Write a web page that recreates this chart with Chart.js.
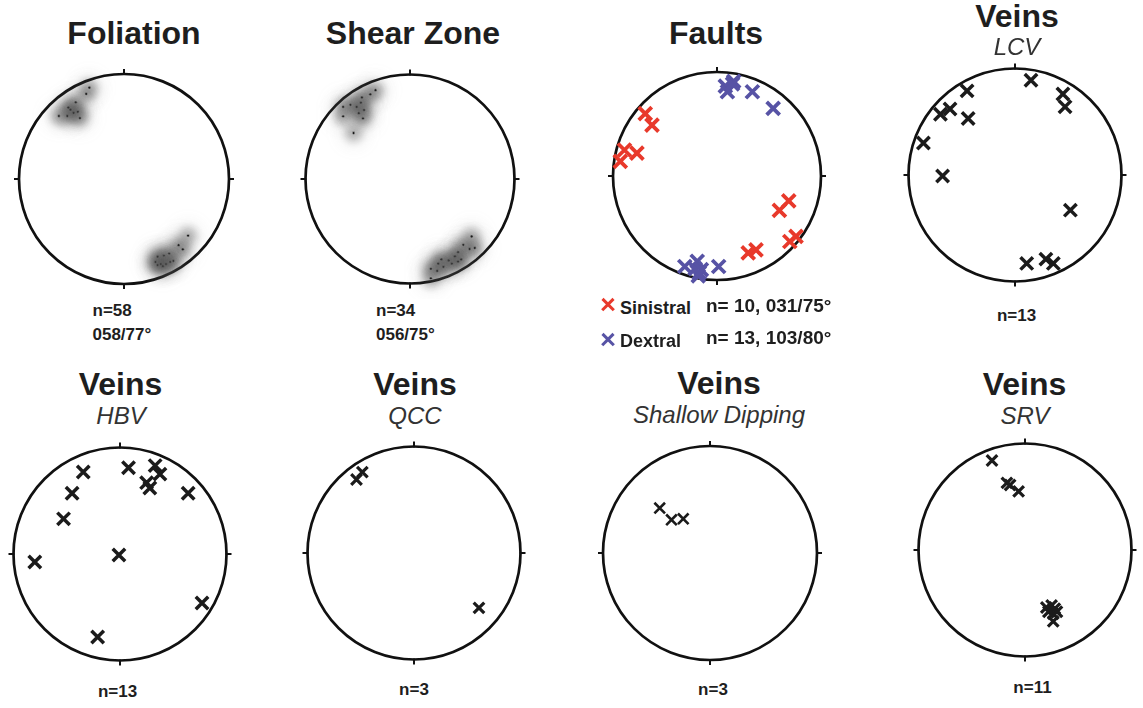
<!DOCTYPE html>
<html>
<head>
<meta charset="utf-8">
<script src="https://cdn.jsdelivr.net/npm/chart.js@4.4.0/dist/chart.umd.min.js"></script>
<style>
html, body { margin: 0; padding: 0; background: #fff; }
#page { position: relative; width: 1143px; height: 708px; overflow: hidden;
        font-family: 'Liberation Sans', Arial, sans-serif; color: #1e1e1e; }
#page canvas { position: absolute; }
.lbl { position: absolute; white-space: nowrap; line-height: 1; }
.xmark { position: absolute; width: 14px; height: 14px; }
.xmark::before, .xmark::after { content: ''; position: absolute; left: -1px; top: 5.4px;
        width: 16px; height: 3.4px; background: currentColor; }
.xmark::before { transform: rotate(45deg); }
.xmark::after { transform: rotate(-45deg); }
</style>
</head>
<body>
<div id="page"></div>
<script>
// Projected pole positions on the net, [east, north] in units of the net radius
const foliationPoles = [
    [-0.33, 0.87], [-0.36, 0.81], [-0.46, 0.73], [-0.53, 0.68], [-0.51, 0.66],
    [-0.48, 0.63], [-0.44, 0.64], [-0.42, 0.58], [-0.54, 0.60], [-0.62, 0.60],
    [0.61, -0.54], [0.52, -0.63], [0.56, -0.67], [0.43, -0.71], [0.38, -0.73],
    [0.32, -0.74], [0.30, -0.79], [0.35, -0.81], [0.40, -0.81], [0.44, -0.79],
    [0.47, -0.78], [0.32, -0.82], [0.37, -0.83]
];
const shearZonePoles = [
    [-0.33, 0.85], [-0.38, 0.81], [-0.46, 0.78], [-0.47, 0.73], [-0.57, 0.71],
    [-0.64, 0.69], [-0.51, 0.69], [-0.44, 0.66], [-0.49, 0.63], [-0.64, 0.60],
    [-0.45, 0.58], [-0.54, 0.44],
    [0.59, -0.55], [0.51, -0.63], [0.57, -0.67], [0.62, -0.66], [0.46, -0.70],
    [0.43, -0.74], [0.37, -0.78], [0.40, -0.81], [0.46, -0.79], [0.49, -0.77],
    [0.30, -0.77], [0.27, -0.81], [0.32, -0.84], [0.20, -0.86], [0.26, -0.88],
    [0.20, -0.95]
];
const sinistralPoles = [
    [-0.69, 0.60], [-0.625, 0.49], [-0.89, 0.25], [-0.77, 0.22], [-0.93, 0.14],
    [0.69, -0.24], [0.60, -0.33], [0.76, -0.58], [0.70, -0.63], [0.375, -0.71],
    [0.30, -0.74]
];
const dextralPoles = [
    [0.08, 0.865], [0.16, 0.91], [0.10, 0.81], [0.15, 0.885], [0.34, 0.81],
    [0.54, 0.65], [-0.31, -0.87], [-0.19, -0.82], [-0.21, -0.89], [-0.15, -0.90],
    [-0.18, -0.96], [0.016, -0.87], [-0.17, -0.93]
];
const lcvPoles = [
    [0.15, 0.89], [-0.45, 0.79], [-0.61, 0.62], [-0.70, 0.57], [-0.44, 0.53],
    [-0.86, 0.30], [-0.68, -0.01], [0.45, 0.76], [0.47, 0.64], [0.52, -0.33],
    [0.11, -0.83], [0.29, -0.79], [0.36, -0.83]
];
const hbvPoles = [
    [-0.345, 0.77], [0.08, 0.81], [0.33, 0.83], [0.375, 0.75], [0.25, 0.67],
    [0.28, 0.62], [0.64, 0.57], [-0.45, 0.57], [-0.53, 0.33], [-0.80, -0.075],
    [-0.01, -0.01], [0.77, -0.46], [-0.21, -0.78]
];
const qccPoles = [[-0.485, 0.76], [-0.54, 0.69], [0.61, -0.515]];
const shallowPoles = [[-0.47, 0.42], [-0.36, 0.31], [-0.25, 0.32]];
const srvPoles = [
    [-0.31, 0.84], [-0.17, 0.63], [-0.14, 0.61], [-0.06, 0.55], [0.20, -0.54],
    [0.25, -0.52], [0.28, -0.55], [0.22, -0.58], [0.265, -0.60], [0.30, -0.58],
    [0.265, -0.67]
];

const page = document.getElementById('page');
const CANVAS = 240;

function toXY(list) {
    return list.map(([x, y]) => ({ x, y }));
}

function densitySets(poles) {
    return [
        { data: toXY(poles), pointRadius: 15, pointBorderWidth: 0,
          pointBackgroundColor: 'rgba(120,120,120,0.09)', blur: 7 },
        { data: toXY(poles), pointRadius: 8, pointBorderWidth: 0,
          pointBackgroundColor: 'rgba(15,15,15,0.30)', blur: 4 },
        { data: toXY(poles), pointRadius: 1.4, pointBorderWidth: 0.7,
          pointBackgroundColor: '#000', pointBorderColor: 'rgba(255,255,255,0.85)' }
    ];
}

function crossSet(poles, color, radius, width) {
    return { data: toXY(poles), pointStyle: 'crossRot', pointRadius: radius,
             pointBorderWidth: width, pointBorderColor: color, pointBackgroundColor: color };
}

// net outline, N/E/S/W ticks and blurred density layers
const netPlugin = {
    id: 'net',
    beforeDatasetsDraw(chart) {
        const { ctx, scales: { x, y } } = chart;
        const cx = x.getPixelForValue(0), cy = y.getPixelForValue(0);
        const r = x.getPixelForValue(1) - cx;
        ctx.save();
        ctx.strokeStyle = '#111';
        ctx.lineWidth = 2.7;
        ctx.beginPath();
        ctx.arc(cx, cy, r, 0, Math.PI * 2);
        ctx.stroke();
        ctx.lineWidth = 2;
        ctx.beginPath();
        [0, 0.5, 1, 1.5].forEach(a => {
            const dx = Math.cos(a * Math.PI), dy = Math.sin(a * Math.PI);
            ctx.moveTo(cx + dx * (r - 1), cy + dy * (r - 1));
            ctx.lineTo(cx + dx * (r + 5), cy + dy * (r + 5));
        });
        ctx.stroke();
        ctx.restore();
    },
    beforeDatasetDraw(chart, args) {
        const ds = chart.data.datasets[args.index];
        if (ds.blur) {
            chart.ctx.save();
            chart.ctx.filter = 'blur(' + ds.blur + 'px)';
        }
    },
    afterDatasetDraw(chart, args) {
        if (chart.data.datasets[args.index].blur) chart.ctx.restore();
    }
};

function makeNet(cx, cy, r, datasets) {
    const c = document.createElement('canvas');
    c.width = CANVAS;
    c.height = CANVAS;
    c.style.left = (cx - CANVAS / 2) + 'px';
    c.style.top = (cy - CANVAS / 2) + 'px';
    page.appendChild(c);
    const R = (CANVAS / 2) / r;
    datasets.forEach(d => { d.clip = false; });
    new Chart(c, {
        type: 'scatter',
        data: { datasets },
        options: {
            responsive: false,
            animation: false,
            events: [],
            layout: { padding: 0, autoPadding: false },
            plugins: { legend: { display: false }, tooltip: { enabled: false } },
            scales: {
                x: { type: 'linear', min: -R, max: R, display: false },
                y: { type: 'linear', min: -R, max: R, display: false }
            }
        },
        plugins: [netPlugin]
    });
}

function label(text, x, baseline, size, opts = {}) {
    const d = document.createElement('div');
    d.className = 'lbl';
    d.textContent = text;
    d.style.fontSize = size + 'px';
    d.style.fontWeight = opts.bold ? 'bold' : 'normal';
    if (opts.italic) d.style.fontStyle = 'italic';
    d.style.color = opts.color || '#1e1e1e';
    d.style.top = (baseline - 0.8465 * size) + 'px';
    d.style.left = x + 'px';
    if (opts.center) d.style.transform = 'translateX(-50%)';
    page.appendChild(d);
}

function xmark(cx, cy, color) {
    const m = document.createElement('div');
    m.className = 'xmark';
    m.style.left = (cx - 7) + 'px';
    m.style.top = (cy - 7) + 'px';
    m.style.color = color;
    page.appendChild(m);
}

const BLACK = '#1b1b1b';
const RED = '#e8392b';
const BLUE = '#5753a5';

// top row
makeNet(123.5, 178.5, 105, densitySets(foliationPoles));
makeNet(410, 179, 104.5, densitySets(shearZonePoles));
makeNet(716.5, 175.5, 104, [
    crossSet(sinistralPoles, RED, 9.2, 3.8),
    crossSet(dextralPoles, BLUE, 9.2, 3.8)
]);
makeNet(1014.5, 174.5, 106.5, [crossSet(lcvPoles, BLACK, 8.8, 3.5)]);
// bottom row
makeNet(120, 553.5, 106.5, [crossSet(hbvPoles, BLACK, 8.8, 3.5)]);
makeNet(413.5, 552.5, 106.5, [crossSet(qccPoles, BLACK, 7.5, 3.2)]);
makeNet(710, 553, 107, [crossSet(shallowPoles, BLACK, 7.5, 2.6)]);
makeNet(1025, 549.5, 106.5, [crossSet(srvPoles, BLACK, 7.5, 3.2)]);

// titles
label('Foliation', 134, 44, 32, { bold: true, center: true });
label('Shear Zone', 413, 44, 32, { bold: true, center: true });
label('Faults', 716, 44, 32, { bold: true, center: true });
label('Veins', 1017, 27, 32, { bold: true, center: true });
label('LCV', 1017, 55, 24, { italic: true, center: true, color: '#333' });
label('Veins', 120.5, 395, 32, { bold: true, center: true });
label('HBV', 121, 424, 24, { italic: true, center: true, color: '#333' });
label('Veins', 415, 395, 32, { bold: true, center: true });
label('QCC', 415, 424, 24, { italic: true, center: true, color: '#333' });
label('Veins', 719, 394, 32, { bold: true, center: true });
label('Shallow Dipping', 719, 423, 24, { italic: true, center: true, color: '#333' });
label('Veins', 1024.5, 395, 32, { bold: true, center: true });
label('SRV', 1025, 424, 24, { italic: true, center: true, color: '#333' });

// counts and mean orientations
label('n=58', 92.5, 316, 17, { bold: true });
label('058/77°', 92.5, 340, 17, { bold: true });
label('n=34', 376, 316.5, 17, { bold: true });
label('056/75°', 376, 340, 17, { bold: true });
label('n=13', 1016.5, 321, 17, { bold: true, center: true });
label('n=13', 117.5, 697, 17, { bold: true, center: true });
label('n=3', 414, 695, 17, { bold: true, center: true });
label('n=3', 713, 695, 17, { bold: true, center: true });
label('n=11', 1032.5, 693, 17, { bold: true, center: true });

// faults legend
xmark(608, 305, RED);
xmark(608, 340, BLUE);
label('Sinistral', 620, 314, 18, { bold: true });
label('Dextral', 620, 347, 18, { bold: true });
label('n= 10, 031/75°', 706, 312, 19, { bold: true });
label('n= 13, 103/80°', 706, 344, 19, { bold: true });
</script>
</body>
</html>
